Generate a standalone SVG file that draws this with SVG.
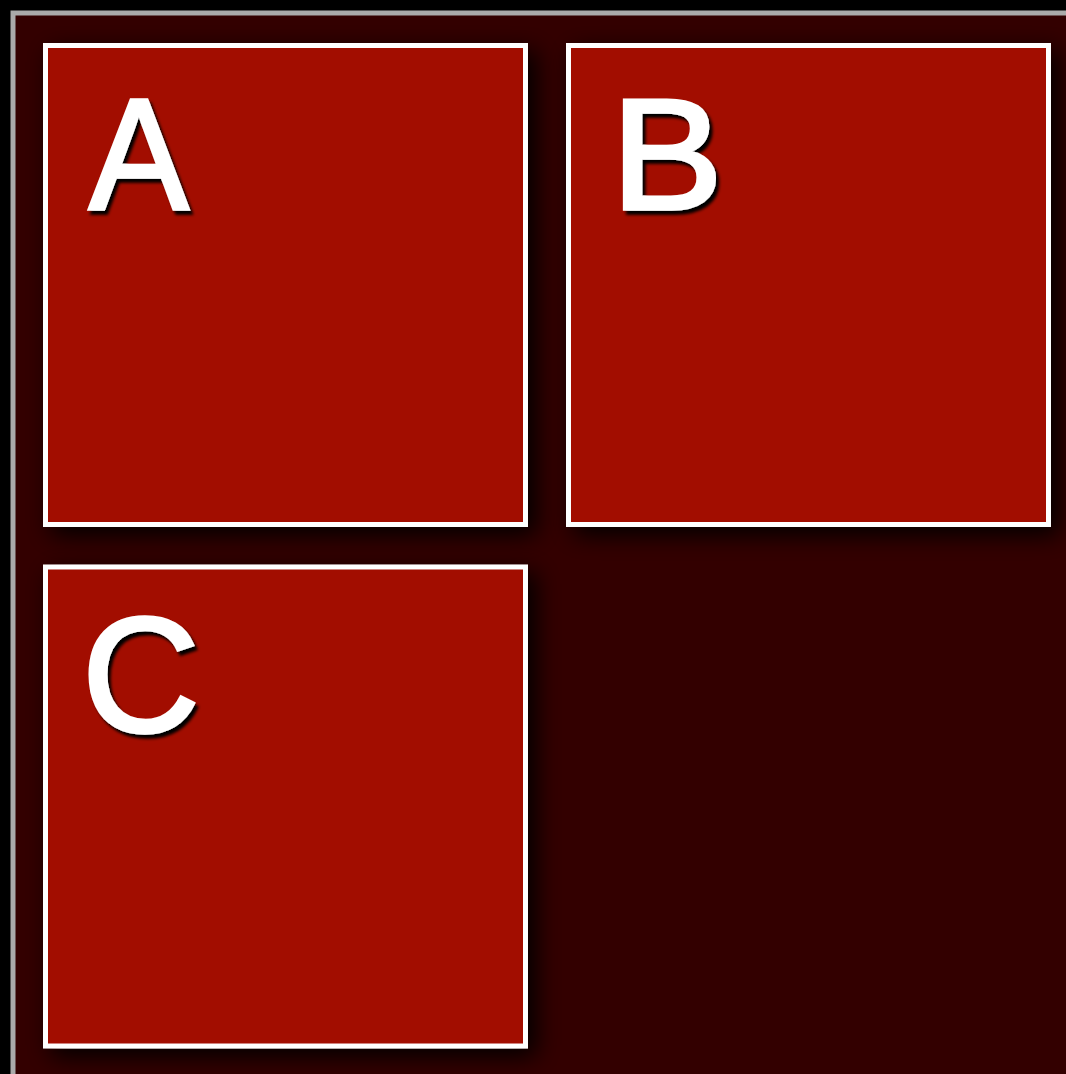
<svg xmlns="http://www.w3.org/2000/svg" width="1066" height="1074" viewBox="0 0 1066 1074">
  <defs>
    <filter id="boxShadow" x="-20%" y="-20%" width="150%" height="150%">
      <feDropShadow dx="8" dy="8" stdDeviation="12" flood-color="#000" flood-opacity="1"/>
    </filter>
    <filter id="textShadow" x="-20%" y="-20%" width="150%" height="150%">
      <feDropShadow dx="3" dy="4" stdDeviation="1.5" flood-color="#000" flood-opacity="1"/>
    </filter>
  </defs>
  <style>
    .box { fill: #a20800; stroke: #ffffff; stroke-width: 5; filter: url(#boxShadow); }
    .label { font-family: "Liberation Sans", Arial, sans-serif; font-size: 157px; fill: #ffffff; stroke: #ffffff; stroke-width: 3.5; stroke-linejoin: miter; filter: url(#textShadow); }
  </style>
  <rect x="0" y="0" width="1066" height="1074" fill="#000000"/>
  <rect x="13" y="13" width="1080" height="1080" fill="#330000" stroke="#aaaaaa" stroke-width="5"/>
  <g id="node-A">
    <rect class="box" x="45.5" y="45.5" width="480" height="479"/>
    <text class="label" x="93.7" y="209" transform="scale(0.95,1)">A</text>
  </g>
  <g id="node-B">
    <rect class="box" x="568.5" y="45.5" width="480" height="479"/>
    <text class="label" x="571" y="209" transform="scale(1.07,1)">B</text>
  </g>
  <g id="node-C">
    <rect class="box" x="45.5" y="567" width="480" height="479"/>
    <text class="label" x="82" y="731" style="font-size:163px">C</text>
  </g>
  <g id="connectors"></g>
</svg>
